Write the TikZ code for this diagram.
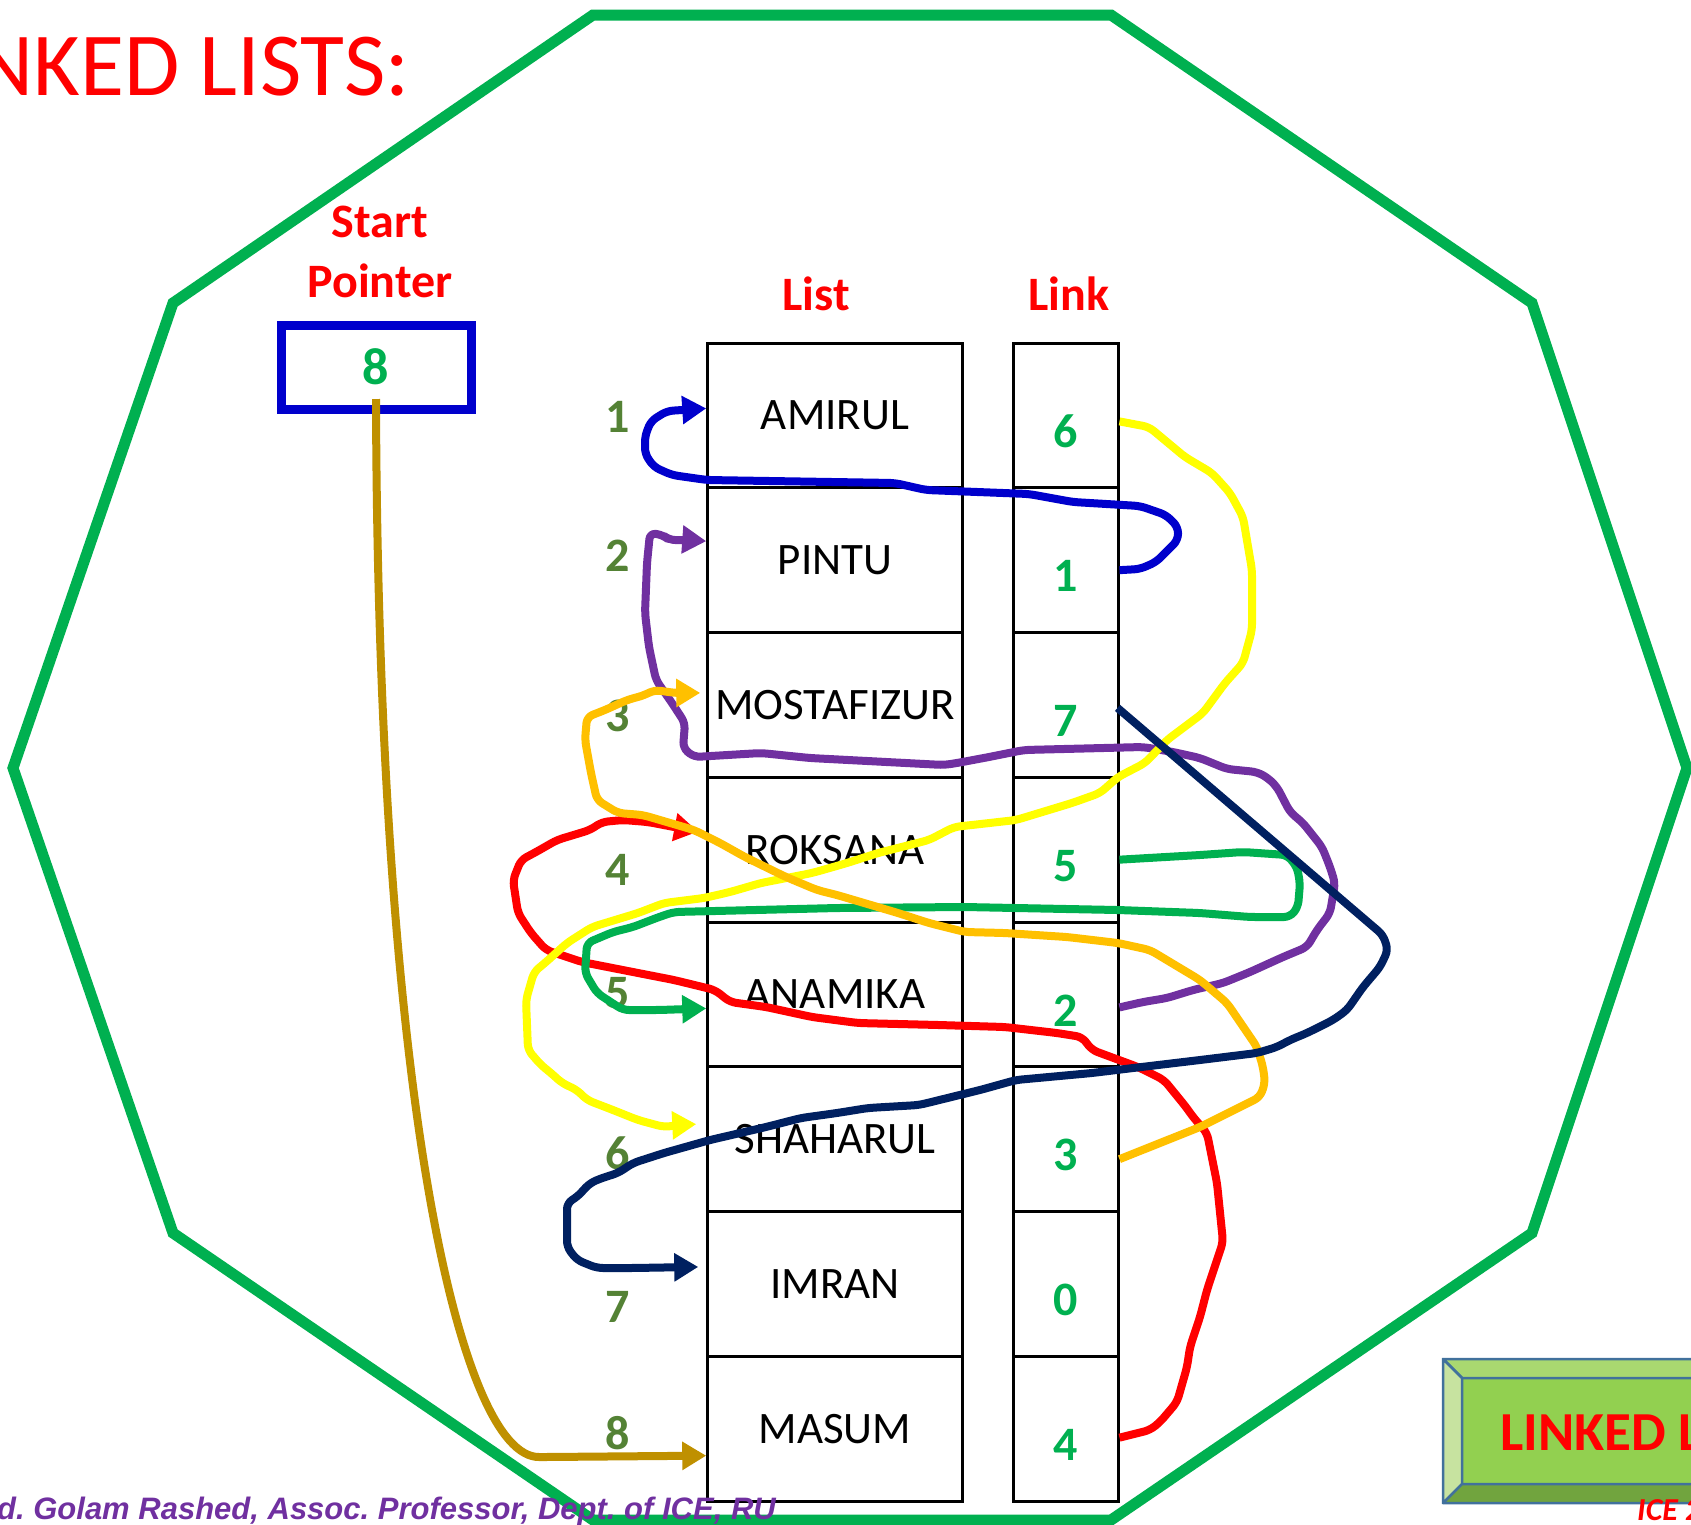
\documentclass[tikz,border=0pt]{standalone}
\usepackage{fontspec}
\setmainfont{Carlito}
\newfontfamily\arialfont{Liberation Sans}
\usetikzlibrary{positioning,arrows.meta}
\definecolor{framegreen}{RGB}{0,176,80}
\definecolor{ptrblue}{RGB}{0,0,204}
\definecolor{idxgreen}{RGB}{84,130,53}
\definecolor{pgold}{RGB}{191,144,0}
\definecolor{ppurple}{RGB}{112,48,160}
\definecolor{porange}{RGB}{255,192,0}
\definecolor{pyellow}{RGB}{255,255,0}
\definecolor{pnavy}{RGB}{0,32,96}
\definecolor{btnedge}{RGB}{65,113,156}
\definecolor{btntop}{RGB}{169,216,112}
\definecolor{btnleft}{RGB}{199,227,160}
\definecolor{btnface}{RGB}{146,208,80}
\definecolor{btnbot}{RGB}{113,164,62}
\frenchspacing
\tikzset{
  frame/.style={draw=framegreen, line width=11pt, line join=miter},
  hdr/.style={inner sep=0pt, text=red, align=center,
              font=\fontsize{48}{60}\selectfont\bfseries},
  ptrbox/.style={rectangle, draw=ptrblue, line width=9pt, minimum width=190pt,
                 minimum height=84pt, inner sep=0pt, text=framegreen,
                 font=\fontsize{52}{60}\selectfont\bfseries},
  listcell/.style={rectangle, draw, line width=3pt, minimum width=254.5pt,
                   minimum height=144.75pt, inner sep=0pt,
                   font=\fontsize{45}{54}\selectfont},
  linkcell/.style={listcell, minimum width=105pt},
  linknum/.style={inner sep=0pt, text=framegreen, font=\fontsize{48}{56}\selectfont\bfseries},
  idx/.style={inner sep=0pt, text=idxgreen, font=\fontsize{48}{56}\selectfont\bfseries},
  ar/.style={-{Triangle[length=24pt,width=27pt]}, line width=8pt,
             rounded corners=6pt, line join=round},
  bev/.style={draw=btnedge, line width=2.5pt, line join=round},
}
\begin{document}
\begin{tikzpicture}[x=1pt,y=-1pt]
  \useasboundingbox (0,0) rectangle (1691,1524);
  \draw[frame] (593,15) -- (1111,15) -- (1532,303) -- (1687,768) -- (1532,1233)
    -- (1111,1520) -- (593,1520) -- (173,1233) -- (13,768) -- (173,303) -- cycle;

  \node[anchor=base east, inner sep=0pt, text=red, font=\fontsize{90}{100}\selectfont]
    (title) at (410,95) {LINKED LISTS:};

  \node[hdr, anchor=south] (sp) at (380,298) {Start\\Pointer};
  \node[ptrbox] (ptr) at (376,367) {8};
  \node[hdr, anchor=base] (lh) at (816,310) {List};
  \node[hdr, anchor=base] (kh) at (1069,310) {Link};

  \foreach \nm [count=\i] in {AMIRUL,PINTU,MOSTAFIZUR,ROKSANA,ANAMIKA,SHAHARUL,IMRAN,MASUM}
    \node[listcell] (l\i) at (835,{415.4+144.75*(\i-1)}) {\nm};
  \foreach \d [count=\i] in {6,1,7,5,2,3,0,4}{
    \node[linkcell] (k\i) at (1065.5,{415.4+144.75*(\i-1)}) {};
    \node[linknum] (v\i) at ([yshift=-16pt]k\i.center) {\d};
  }
  \foreach \i/\y in {1/417,2/556,3/716,4/870,5/993,6/1153,7/1307,8/1433}
    \node[idx] (n\i) at (618,\y) {\i};

  % start pointer
  \draw[ar, draw=pgold] ([yshift=-32pt]ptr.center) .. controls (378,1100) and (460,1457) .. (545,1457)
    -- ([yshift=-27pt]l8.west);
  % 1 -> AMIRUL
  \draw[ar, draw=ptrblue] ([yshift=-10pt]k2.east) -- (1140,569) -- (1156,562) -- (1178,540)
    -- (1178,527) -- (1166,515) -- (1140,506) -- (1073,502) -- (1029,494) -- (926,490)
    -- (895,483) -- (707,480) -- (672,475) -- (654,467) -- (645,454) -- (645,436)
    -- (651,421) -- (667,411) -- ([yshift=7pt]l1.west);
  % 2 -> PINTU
  \draw[ar, draw=ppurple] ([yshift=-13pt]k5.east) -- (1143,1002) -- (1167,998) -- (1193,990)
    -- (1223,983) -- (1250,972) -- (1283,957) -- (1307,947) -- (1317,930) -- (1330,913)
    -- (1335,883) -- (1330,867) -- (1322,847) -- (1303,823) -- (1290,812) -- (1277,787)
    -- (1268,778) -- (1257,772) -- (1227,769) -- (1200,758) -- (1173,752) -- (1143,747)
    -- (1024,750) -- (989,757) -- (957,763) -- (944,765) -- (810,758) -- (761,753)
    -- (694,757) -- (683,748) -- (685,723) -- (672,703) -- (656,680) -- (649,647)
    -- (645,613) -- (647,563) -- (650,533) -- (663,535) -- (669,540) -- (690,540)
    -- ([yshift=19pt]l2.west);
  % 4 -> ROKSANA
  \draw[ar, draw=red] ([yshift=-9pt]k8.east) -- (1150,1430) -- (1160,1422) -- (1177,1402)
    -- (1187,1367) -- (1190,1347) -- (1200,1317) -- (1207,1290) -- (1223,1242) -- (1217,1183)
    -- (1207,1133) -- (1193,1117) -- (1186,1107) -- (1164,1080) -- (1138,1067) -- (1092,1050)
    -- (1082,1037) -- (1057,1033) -- (1005,1027) -- (939,1025) -- (858,1023) -- (812,1017)
    -- (766,1007) -- (730,1002) -- (715,990) -- (674,980) -- (633,972) -- (582,962)
    -- (546,950) -- (531,933) -- (518,913) -- (513,880) -- (521,860) -- (536,852)
    -- (557,840) -- (590,830) -- (602,822) -- (623,820) -- (648,822)
    -- ([xshift=-8pt,yshift=18pt]l4.west);
  % 5 -> ANAMIKA
  \draw[ar, draw=framegreen] ([yshift=-10pt]k4.east) -- (1200,855) -- (1243,852) -- (1287,855)
    -- (1297,867) -- (1300,883) -- (1298,907) -- (1290,917) -- (1250,917) -- (1200,913)
    -- (1118,910) -- (965,907) -- (837,908) -- (674,912) -- (659,917) -- (633,927)
    -- (613,932) -- (587,943) -- (585,973) -- (597,993) -- (623,1010) -- (659,1010)
    -- ([yshift=-14pt]l5.west);
  % 6 -> SHAHARUL
  \draw[ar, draw=pyellow] ([yshift=-6pt]k1.east) -- (1149,427) -- (1185,457) -- (1212,473)
    -- (1230,493) -- (1243,517) -- (1252,570) -- (1252,630) -- (1243,663) -- (1225,683)
    -- (1203,713) -- (1167,740) -- (1145,763) -- (1118,777) -- (1100,793) -- (1072,803)
    -- (1016,820) -- (954,827) -- (929,840) -- (878,853) -- (847,863) -- (812,873)
    -- (761,883) -- (730,892) -- (704,898) -- (664,903) -- (638,913) -- (592,927)
    -- (567,943) -- (546,962) -- (534,972) -- (526,1000) -- (528,1050) -- (541,1065)
    -- (551,1073) -- (562,1083) -- (577,1090) -- (587,1100) -- (613,1110) -- (638,1120)
    -- (664,1127) -- (679,1125) -- ([xshift=-10pt,yshift=15pt]l6.west);
  % 3 -> MOSTAFIZUR
  \draw[ar, draw=porange] ([yshift=-20pt]k6.east) -- (1200,1127) -- (1260,1097) -- (1265,1083)
    -- (1263,1067) -- (1257,1047) -- (1227,1003) -- (1200,980) -- (1150,950) -- (1118,943)
    -- (1067,937) -- (1005,933) -- (965,932) -- (929,923) -- (898,913) -- (837,895)
    -- (817,890) -- (786,877) -- (745,857) -- (720,843) -- (694,830) -- (643,815)
    -- (618,813) -- (597,800) -- (591,773) -- (585,740) -- (587,717) -- (605,710)
    -- (627,700) -- (645,695) -- (654,690) -- (676,693)
    -- ([xshift=-6pt,yshift=12pt]l3.west);
  % 7 -> IMRAN
  \draw[ar, draw=pnavy] ([xshift=-2pt,yshift=-3pt]k3.east) -- (1383,935) -- (1388,950)
    -- (1380,967) -- (1363,987) -- (1347,1010) -- (1333,1020) -- (1307,1033) -- (1290,1040)
    -- (1277,1047) -- (1257,1053) -- (1200,1060) -- (1133,1068) -- (1092,1073) -- (1016,1080)
    -- (980,1090) -- (919,1105) -- (868,1108) -- (837,1113) -- (801,1118) -- (766,1127)
    -- (710,1140) -- (664,1153) -- (633,1163) -- (618,1173) -- (602,1178) -- (590,1183)
    -- (577,1197) -- (567,1203) -- (567,1247) -- (577,1260) -- (597,1268) -- (633,1268)
    -- ([xshift=-8pt,yshift=17pt]l7.west);

  \node[anchor=base east, inner sep=0pt, text=ppurple,
        font=\arialfont\bfseries\itshape\fontsize{31}{36}\selectfont]
    (cred) at (776,1519) {Md. Golam Rashed, Assoc. Professor, Dept. of ICE, RU};

  % button
  \filldraw[bev, fill=btnface] (1462,1378) rectangle (1700,1484);
  \filldraw[bev, fill=btntop] (1443,1359) -- (1700,1359) -- (1700,1378) -- (1462,1378) -- cycle;
  \filldraw[bev, fill=btnleft] (1443,1359) -- (1462,1378) -- (1462,1484) -- (1443,1503) -- cycle;
  \filldraw[bev, fill=btnbot] (1443,1503) -- (1462,1484) -- (1700,1484) -- (1700,1503) -- cycle;
  \node[anchor=base west, inner sep=0pt, text=red, font=\fontsize{55}{60}\selectfont\bfseries]
    (btn) at (1500,1450) {LINKED LIST};
  \node[anchor=base west, inner sep=0pt, text=red, font=\fontsize{32}{36}\selectfont\bfseries\itshape]
    (course) at (1637,1520) {ICE 2};
\end{tikzpicture}
\end{document}
